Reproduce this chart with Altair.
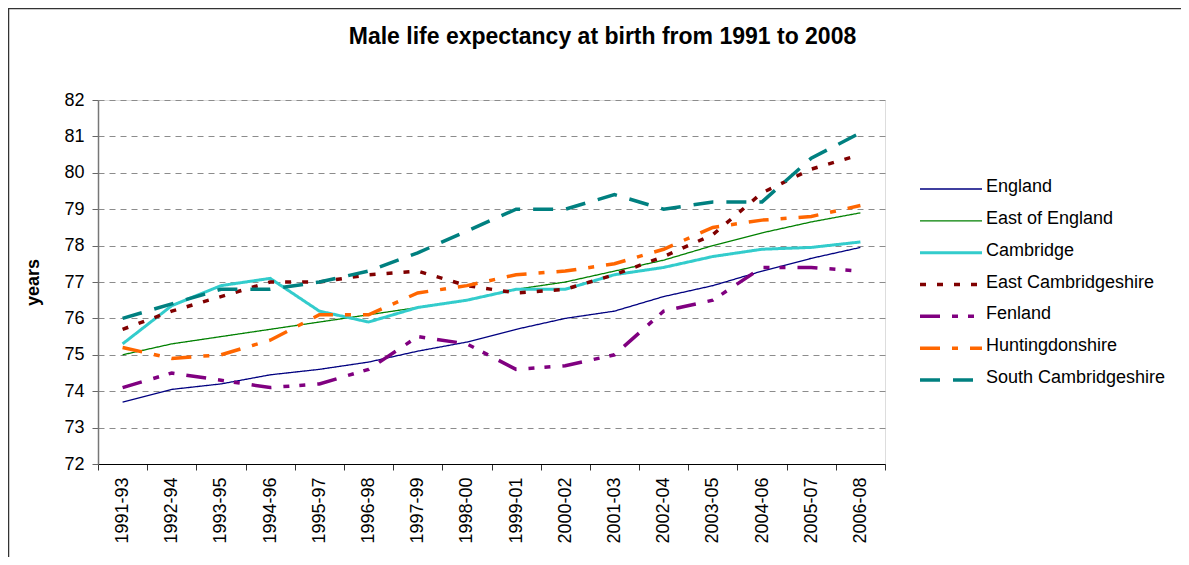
import altair as alt
import pandas as pd

periods = ["1991-93", "1992-94", "1993-95", "1994-96", "1995-97", "1996-98",
           "1997-99", "1998-00", "1999-01", "2000-02", "2001-03", "2002-04",
           "2003-05", "2004-06", "2005-07", "2006-08"]

series_names = ["England", "East of England", "Cambridge", "East Cambridgeshire",
                "Fenland", "Huntingdonshire", "South Cambridgeshire"]

england = [73.7, 74.05, 74.2, 74.45, 74.6, 74.8, 75.1, 75.35, 75.7, 76.0, 76.2, 76.6, 76.9, 77.3, 77.65, 77.95]
east_of_england = [75.0, 75.3, 75.5, 75.7, 75.9, 76.1, 76.3, 76.5, 76.8, 77.0, 77.3, 77.6, 78.0, 78.35, 78.65, 78.9]
cambridge = [75.3, 76.35, 76.9, 77.1, 76.2, 75.9, 76.3, 76.5, 76.8, 76.8, 77.2, 77.4, 77.7, 77.9, 77.95, 78.1]
east_cambs = [75.7, 76.2, 76.6, 77.0, 77.0, 77.2, 77.3, 76.9, 76.7, 76.8, 77.2, 77.7, 78.3, 79.45, 80.1, 80.5]
fenland = [74.1, 74.5, 74.3, 74.1, 74.2, 74.6, 75.5, 75.3, 74.6, 74.7, 75.0, 76.2, 76.5, 77.4, 77.4, 77.3]
huntingdonshire = [75.2, 74.9, 75.0, 75.4, 76.1, 76.1, 76.7, 76.9, 77.2, 77.3, 77.5, 77.9, 78.5, 78.7, 78.8, 79.1]
south_cambs = [76.0, 76.4, 76.8, 76.8, 77.0, 77.3, 77.8, 78.4, 79.0, 79.0, 79.4, 79.0, 79.2, 79.2, 80.4, 81.1]

all_values = [england, east_of_england, cambridge, east_cambs, fenland, huntingdonshire, south_cambs]

colors = ["#000080", "#008000", "#33CCCC", "#800000", "#800080", "#FF6600", "#008080"]
dashes = [[1, 0], [1, 0], [1, 0], [6, 11], [20, 12, 6, 10, 6, 12], [20, 12, 6, 12], [20, 13]]
width_groups = [
    (["England", "East of England"], 1.3),
    (["Cambridge"], 3),
    (["East Cambridgeshire", "Fenland", "Huntingdonshire", "South Cambridgeshire"], 3.5),
]

rows = []
for i, (name, vals) in enumerate(zip(series_names, all_values)):
    for p, v in zip(periods, vals):
        rows.append({"series": name, "period": p, "value": v})
df = pd.DataFrame(rows)
legend_df = pd.DataFrame({"series": series_names})

FONT = "Liberation Sans"

color_enc = alt.Color("series:N", scale=alt.Scale(domain=series_names, range=colors), legend=None)
dash_enc = alt.StrokeDash("series:N", scale=alt.Scale(domain=series_names, range=dashes), legend=None)

x_enc = alt.X("period:N", sort=periods, bandPosition=0.5,
              scale=alt.Scale(type="band", paddingInner=0, paddingOuter=0),
              axis=alt.Axis(title=None, labelAngle=-90, labelFontSize=18, labelFont=FONT,
                            labelColor="#000", tickBand="extent", tickSize=6, tickColor="#333",
                            domainColor="#000", domainWidth=1.2, labelPadding=7, grid=False))
y_enc = alt.Y("value:Q", scale=alt.Scale(domain=[72, 82], nice=False, zero=False),
              axis=alt.Axis(values=list(range(72, 83)), title="years", titleFontSize=18,
                            titleFont=FONT, titleFontWeight="bold", titleColor="#000",
                            titlePadding=21, labelFontSize=18, labelFont=FONT, labelColor="#000",
                            labelPadding=8, tickSize=6, tickColor="#666", domainColor="#777",
                            domainWidth=1.5, grid=True, gridColor="#8c8c8c", gridDash=[6, 5],
                            gridWidth=1))

legend_y = alt.Y("series:N", sort=series_names,
                 scale=alt.Scale(type="point", domain=series_names, range=[89, 280], padding=0),
                 axis=None)

line_layers = []
legend_layers = []
for names, w in width_groups:
    pred = alt.FieldOneOfPredicate(field="series", oneOf=names)
    line_layers.append(
        alt.Chart(df).transform_filter(pred).mark_line(strokeWidth=w).encode(
            x=x_enc, y=y_enc, color=color_enc, strokeDash=dash_enc, detail="series:N"
        )
    )
    legend_layers.append(
        alt.Chart(legend_df).transform_filter(pred).mark_rule(strokeWidth=w).encode(
            x=alt.value(822), x2=alt.value(884), y=legend_y,
            color=color_enc, strokeDash=dash_enc,
        )
    )

legend_text = alt.Chart(legend_df).mark_text(
    align="left", baseline="middle", fontSize=18, font=FONT, color="#000", dy=-2
).encode(
    x=alt.value(888),
    y=legend_y,
    text="series:N",
)

border = alt.Chart(pd.DataFrame({"k": [0]})).mark_rect(
    fillOpacity=0, stroke="#333", strokeWidth=1.5
).encode(
    x=alt.value(-89.5), x2=alt.value(1200),
    y=alt.value(-91.5), y2=alt.value(600),
)

main = alt.layer(*line_layers)
legend = alt.layer(*legend_layers, legend_text)

chart = alt.layer(border, main, legend).resolve_scale(
    y="independent"
).properties(
    width=787,
    height=364,
    title=alt.TitleParams(
        "Male life expectancy at birth from 1991 to 2008",
        fontSize=23, font=FONT, fontWeight="bold", color="#000",
        anchor="middle", frame="group", dx=111, baseline="alphabetic", offset=-59,
    ),
    autosize=alt.AutoSizeParams(type="none"),
    padding={"left": 90, "top": 92, "right": 296, "bottom": 93},
).configure_view(stroke=None).configure(background="white")

chart.save("out.html", embed_options={"renderer": "svg", "actions": False})
